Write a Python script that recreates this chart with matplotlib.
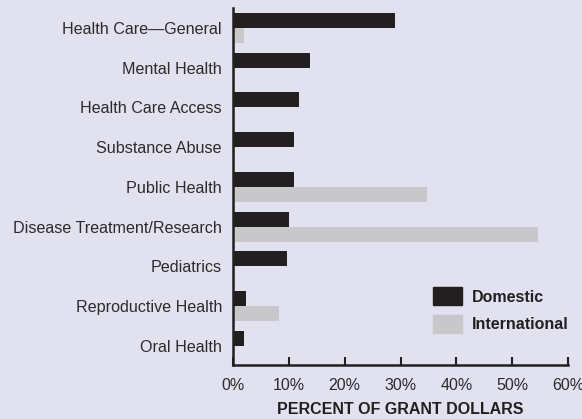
import matplotlib
matplotlib.use("Agg")
import matplotlib.pyplot as plt
import numpy as np
from matplotlib.patches import Patch

categories = ["Health Care\u2014General", "Mental Health", "Health Care Access",
              "Substance Abuse", "Public Health", "Disease Treatment/Research",
              "Pediatrics", "Reproductive Health", "Oral Health"]
domestic = [29.0, 13.8, 11.8, 10.9, 10.9, 10.0, 9.7, 2.3, 2.0]
international = [2.0, 0.4, 0.2, 0.4, 34.8, 54.7, 0.2, 8.2, 0.1]
xticks = [0, 10, 20, 30, 40, 50, 60]
xtick_labels = ["0%", "10%", "20%", "30%", "40%", "50%", "60%"]

BG = "#e1e1ef"
DARK = "#231f20"
LIGHT = "#c8c8ca"
TXT = "#2b2b2b"

plt.rcParams['font.family'] = ['Liberation Sans', 'DejaVu Sans']

fig = plt.figure(figsize=(5.82, 4.19), dpi=100, facecolor=BG)
ax = fig.add_axes([233/582, 1-365/419, (568-233)/582, (365-8)/419])
ax.set_facecolor(BG)

y = np.arange(len(categories))
h = 0.38
ax.barh(y - h/2, domestic, height=h, color=DARK, label="Domestic")
ax.barh(y + h/2, international, height=h, color=LIGHT, label="International")

ax.set_ylim(len(categories) - 1 + 0.48, -0.5)
ax.set_xlim(0, 60)
ax.set_yticks(y)
ax.set_yticklabels(categories, fontsize=11.6, color=TXT)
ax.tick_params(axis='y', length=0, pad=8)
ax.set_xticks(xticks)
ax.set_xticklabels(xtick_labels, fontsize=11.5, color=TXT)
ax.tick_params(axis='x', direction='in', length=6, width=1.5, color=DARK, pad=9)

for s in ['top', 'right']:
    ax.spines[s].set_visible(False)
for s in ['left', 'bottom']:
    ax.spines[s].set_color(DARK)
    ax.spines[s].set_linewidth(1.8)

ax.set_xlabel("PERCENT OF GRANT DOLLARS", fontsize=11.5, fontweight='bold', color=DARK, labelpad=7)

handles = [Patch(color=DARK, label="Domestic"), Patch(color=LIGHT, label="International")]
leg = ax.legend(handles=handles, loc='lower right', bbox_to_anchor=(1.045, 0.05),
                frameon=False, handlelength=1.8, handleheight=1.35,
                handletextpad=0.65, labelspacing=0.6,
                prop={'weight': 'bold', 'size': 11.5})
for t in leg.get_texts():
    t.set_color(DARK)

fig.savefig("out.png", dpi=100, facecolor=BG)
